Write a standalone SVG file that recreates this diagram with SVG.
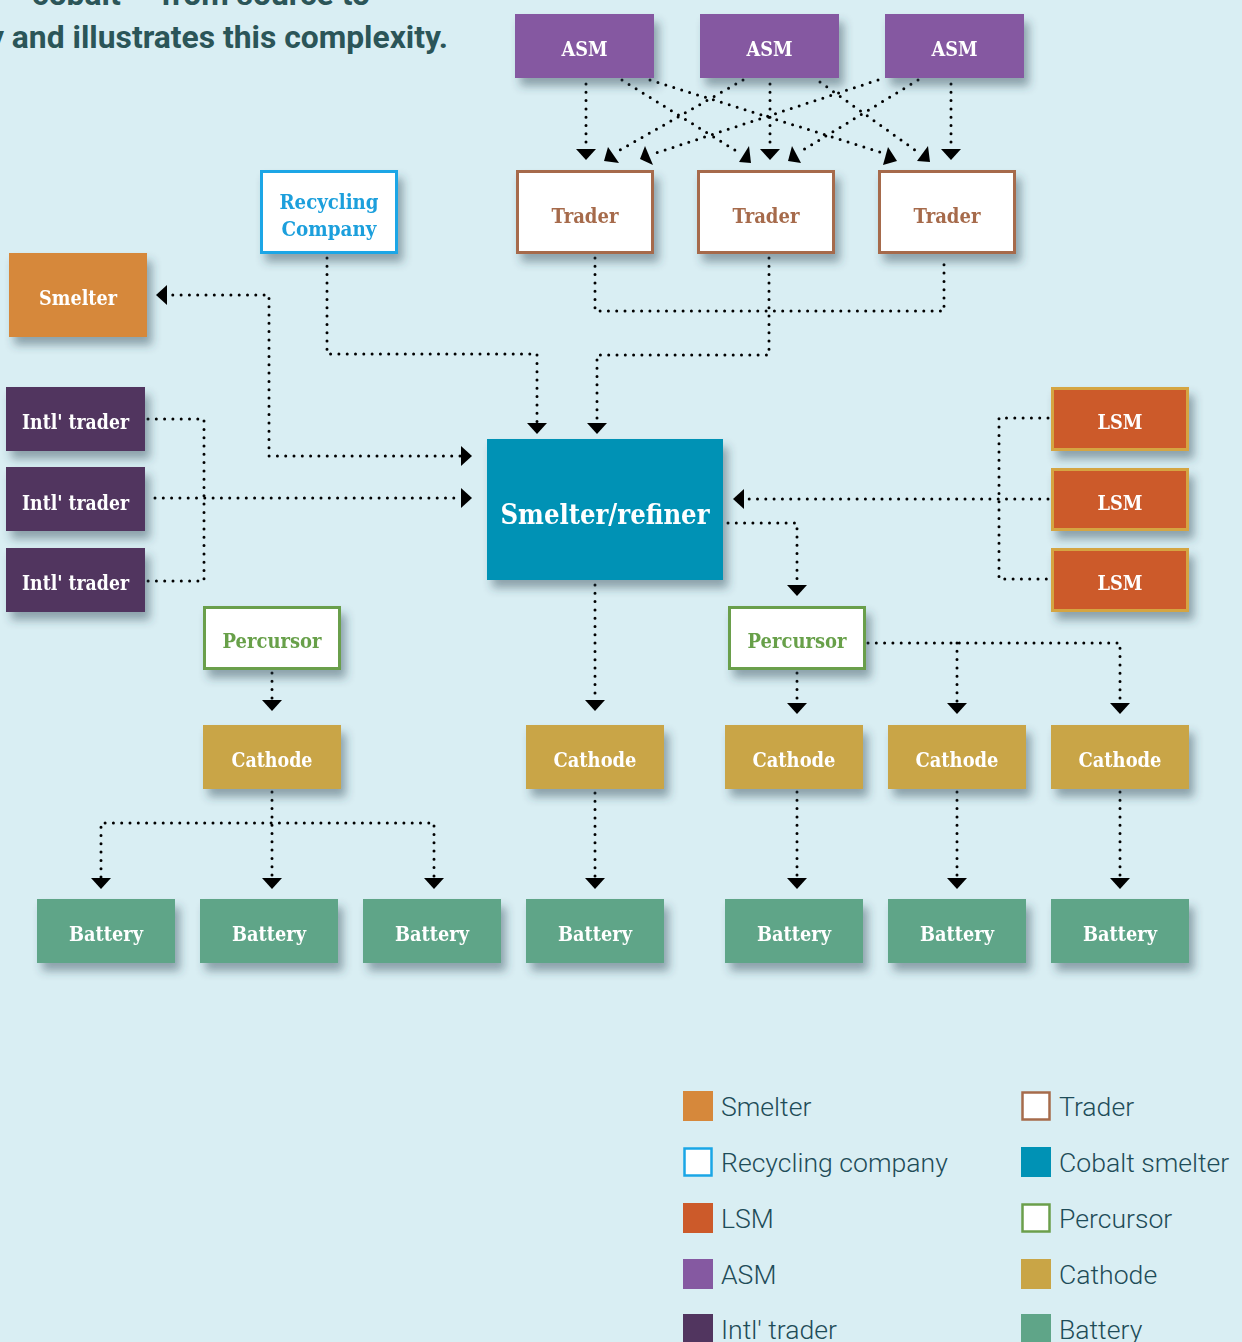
<svg xmlns="http://www.w3.org/2000/svg" width="1242" height="1342" viewBox="0 0 1242 1342">
<defs>
<filter id="sh" x="-20%" y="-20%" width="150%" height="160%">
<feDropShadow dx="5" dy="8" stdDeviation="5" flood-color="#2a4652" flood-opacity="0.45"/>
</filter>
</defs>
<style>
.bg{fill:#d9eef3}
.lbl{font-family:"DejaVu Serif","Liberation Serif",serif;font-weight:bold;font-size:20px;text-anchor:middle;fill:#ffffff}
.big{font-size:28px}
.dot{fill:none;stroke:#000;stroke-width:3;stroke-linecap:round;stroke-dasharray:0 8.3}
.ah{fill:#000}
.asm{fill:#8559a1}
.trader{fill:#fff;stroke:#a66b4b;stroke-width:3}
.recy{fill:#fff;stroke:#1aa6e6;stroke-width:3}
.smelter{fill:#d6883b}
.intl{fill:#51355f}
.refiner{fill:#0092b5}
.lsm{fill:#cc5a2a;stroke:#d5a542;stroke-width:3}
.perc{fill:#fff;stroke:#6b9f4b;stroke-width:3}
.cath{fill:#c9a546}
.batt{fill:#5fa588}
.leg{font-family:Roboto,"Liberation Sans",sans-serif;font-weight:300;font-size:26.6px;fill:#1e4c58}
.head{font-family:Roboto,"Liberation Sans",sans-serif;font-weight:bold;font-size:31.8px;fill:#2b5558}
</style>
<rect class="bg" x="0" y="0" width="1242" height="1342"/>

<text class="head" x="370" y="5" text-anchor="end">cobalt — from source to</text>
<text class="head" x="448" y="48" text-anchor="end">y and illustrates this complexity.</text>

<g id="connectors">
<path class="dot" d="M586,84 V147"/>
<path class="dot" d="M770,84 V147"/>
<path class="dot" d="M951,84 V147"/>
<path class="dot" d="M743,80 L620,150"/>
<path class="dot" d="M878,80 L656,153"/>
<path class="dot" d="M622,80 L738,152"/>
<path class="dot" d="M918,80 L803,150"/>
<path class="dot" d="M650,80 L880,152"/>
<path class="dot" d="M820,82 L915,150"/>
<polygon class="ah" points="576,149 596,149 586,160"/>
<polygon class="ah" points="760,149 780,149 770,160"/>
<polygon class="ah" points="941,149 961,149 951,160"/>
<polygon class="ah" points="604,161 608,147 619,163"/>
<polygon class="ah" points="640,159 645,146 653,165"/>
<polygon class="ah" points="739,162 749,146 751,163"/>
<polygon class="ah" points="788,161 792,146 801,163"/>
<polygon class="ah" points="883,165 888,147 897,161"/>
<polygon class="ah" points="917,161 928,146 930,162"/>

<path class="dot" d="M595,258 V311 H944 V258"/>
<path class="dot" d="M769,258 V355 H597 V422"/>
<polygon class="ah" points="587,423 607,423 597,434"/>
<path class="dot" d="M327,258 V354 H537 V422"/>
<polygon class="ah" points="527,423 547,423 537,434"/>

<path class="dot" d="M460,456 H269 V295 H169"/>
<polygon class="ah" points="167,285 167,305 156,295"/>
<polygon class="ah" points="461,446 461,466 472,456"/>
<path class="dot" d="M148,419 H204 V581 H148"/>
<path class="dot" d="M155,498 H460"/>
<polygon class="ah" points="461,488 461,508 472,498"/>

<path class="dot" d="M1048,418 H999 V579 H1048"/>
<path class="dot" d="M1048,499 H745"/>
<polygon class="ah" points="744,489 744,509 733,499"/>

<path class="dot" d="M728,523 H797 V584"/>
<polygon class="ah" points="787,585 807,585 797,596"/>
<path class="dot" d="M595,585 V699"/>
<polygon class="ah" points="585,700 605,700 595,711"/>
<path class="dot" d="M272,673 V699"/>
<polygon class="ah" points="262,700 282,700 272,711"/>

<path class="dot" d="M797,673 V702"/>
<path class="dot" d="M868,643 H1120 V702"/>
<path class="dot" d="M957,643 V702"/>
<polygon class="ah" points="787,703 807,703 797,714"/>
<polygon class="ah" points="947,703 967,703 957,714"/>
<polygon class="ah" points="1110,703 1130,703 1120,714"/>

<path class="dot" d="M272,792 V877"/>
<path class="dot" d="M101,877 V823 H434 V877"/>
<polygon class="ah" points="91,878 111,878 101,889"/>
<polygon class="ah" points="262,878 282,878 272,889"/>
<polygon class="ah" points="424,878 444,878 434,889"/>
<path class="dot" d="M595,793 V877"/>
<polygon class="ah" points="585,878 605,878 595,889"/>
<path class="dot" d="M797,792 V877"/>
<polygon class="ah" points="787,878 807,878 797,889"/>
<path class="dot" d="M957,792 V877"/>
<polygon class="ah" points="947,878 967,878 957,889"/>
<path class="dot" d="M1120,792 V877"/>
<polygon class="ah" points="1110,878 1130,878 1120,889"/>
</g>

<g id="asm1" filter="url(#sh)"><rect class="asm" x="515" y="14" width="139" height="64"/><text class="lbl" x="584.5" y="56" textLength="46" lengthAdjust="spacingAndGlyphs">ASM</text></g>
<g id="asm2" filter="url(#sh)"><rect class="asm" x="700" y="14" width="139" height="64"/><text class="lbl" x="769.5" y="56" textLength="46" lengthAdjust="spacingAndGlyphs">ASM</text></g>
<g id="asm3" filter="url(#sh)"><rect class="asm" x="885" y="14" width="139" height="64"/><text class="lbl" x="954.5" y="56" textLength="46" lengthAdjust="spacingAndGlyphs">ASM</text></g>

<g id="trader1" filter="url(#sh)"><rect class="trader" x="517.5" y="171.5" width="135" height="81"/><text class="lbl" x="585" y="223" style="fill:#a66b4b" textLength="67" lengthAdjust="spacingAndGlyphs">Trader</text></g>
<g id="trader2" filter="url(#sh)"><rect class="trader" x="698.5" y="171.5" width="135" height="81"/><text class="lbl" x="766" y="223" style="fill:#a66b4b" textLength="67" lengthAdjust="spacingAndGlyphs">Trader</text></g>
<g id="trader3" filter="url(#sh)"><rect class="trader" x="879.5" y="171.5" width="135" height="81"/><text class="lbl" x="947" y="223" style="fill:#a66b4b" textLength="67" lengthAdjust="spacingAndGlyphs">Trader</text></g>

<g id="recycling" filter="url(#sh)"><rect class="recy" x="261.5" y="171.5" width="135" height="81"/><text class="lbl" x="329" y="209" style="fill:#1a9fdc" textLength="99" lengthAdjust="spacingAndGlyphs">Recycling</text><text class="lbl" x="329" y="236" style="fill:#1a9fdc" textLength="95" lengthAdjust="spacingAndGlyphs">Company</text></g>

<g id="smelter" filter="url(#sh)"><rect class="smelter" x="9" y="253" width="138" height="84"/><text class="lbl" x="78" y="305" textLength="78" lengthAdjust="spacingAndGlyphs">Smelter</text></g>

<g id="intl1" filter="url(#sh)"><rect class="intl" x="6" y="387" width="139" height="64"/><text class="lbl" x="75.5" y="429" textLength="107" lengthAdjust="spacingAndGlyphs">Intl' trader</text></g>
<g id="intl2" filter="url(#sh)"><rect class="intl" x="6" y="467" width="139" height="64"/><text class="lbl" x="75.5" y="510" textLength="107" lengthAdjust="spacingAndGlyphs">Intl' trader</text></g>
<g id="intl3" filter="url(#sh)"><rect class="intl" x="6" y="548" width="139" height="64"/><text class="lbl" x="75.5" y="590" textLength="107" lengthAdjust="spacingAndGlyphs">Intl' trader</text></g>

<g id="refiner" filter="url(#sh)"><rect class="refiner" x="487" y="439" width="236" height="141"/><text class="lbl big" x="605" y="524" textLength="209" lengthAdjust="spacingAndGlyphs">Smelter/refiner</text></g>

<g id="lsm1" filter="url(#sh)"><rect class="lsm" x="1052.5" y="388.5" width="135" height="61"/><text class="lbl" x="1120" y="429" textLength="45" lengthAdjust="spacingAndGlyphs">LSM</text></g>
<g id="lsm2" filter="url(#sh)"><rect class="lsm" x="1052.5" y="469.5" width="135" height="60"/><text class="lbl" x="1120" y="510" textLength="45" lengthAdjust="spacingAndGlyphs">LSM</text></g>
<g id="lsm3" filter="url(#sh)"><rect class="lsm" x="1052.5" y="549.5" width="135" height="61"/><text class="lbl" x="1120" y="590" textLength="45" lengthAdjust="spacingAndGlyphs">LSM</text></g>

<g id="perc1" filter="url(#sh)"><rect class="perc" x="204.5" y="607.5" width="135" height="61"/><text class="lbl" x="272" y="648" style="fill:#67a04a" textLength="99" lengthAdjust="spacingAndGlyphs">Percursor</text></g>
<g id="perc2" filter="url(#sh)"><rect class="perc" x="729.5" y="607.5" width="135" height="61"/><text class="lbl" x="797" y="648" style="fill:#67a04a" textLength="99" lengthAdjust="spacingAndGlyphs">Percursor</text></g>

<g id="cath1" filter="url(#sh)"><rect class="cath" x="203" y="725" width="138" height="64"/><text class="lbl" x="272" y="767" textLength="81" lengthAdjust="spacingAndGlyphs">Cathode</text></g>
<g id="cath2" filter="url(#sh)"><rect class="cath" x="526" y="725" width="138" height="64"/><text class="lbl" x="595" y="767" textLength="83" lengthAdjust="spacingAndGlyphs">Cathode</text></g>
<g id="cath3" filter="url(#sh)"><rect class="cath" x="725" y="725" width="138" height="64"/><text class="lbl" x="794" y="767" textLength="83" lengthAdjust="spacingAndGlyphs">Cathode</text></g>
<g id="cath4" filter="url(#sh)"><rect class="cath" x="888" y="725" width="138" height="64"/><text class="lbl" x="957" y="767" textLength="83" lengthAdjust="spacingAndGlyphs">Cathode</text></g>
<g id="cath5" filter="url(#sh)"><rect class="cath" x="1051" y="725" width="138" height="64"/><text class="lbl" x="1120" y="767" textLength="83" lengthAdjust="spacingAndGlyphs">Cathode</text></g>

<g id="batt1" filter="url(#sh)"><rect class="batt" x="37" y="899" width="138" height="64"/><text class="lbl" x="106" y="941" textLength="74" lengthAdjust="spacingAndGlyphs">Battery</text></g>
<g id="batt2" filter="url(#sh)"><rect class="batt" x="200" y="899" width="138" height="64"/><text class="lbl" x="269" y="941" textLength="74" lengthAdjust="spacingAndGlyphs">Battery</text></g>
<g id="batt3" filter="url(#sh)"><rect class="batt" x="363" y="899" width="138" height="64"/><text class="lbl" x="432" y="941" textLength="74" lengthAdjust="spacingAndGlyphs">Battery</text></g>
<g id="batt4" filter="url(#sh)"><rect class="batt" x="526" y="899" width="138" height="64"/><text class="lbl" x="595" y="941" textLength="74" lengthAdjust="spacingAndGlyphs">Battery</text></g>
<g id="batt5" filter="url(#sh)"><rect class="batt" x="725" y="899" width="138" height="64"/><text class="lbl" x="794" y="941" textLength="74" lengthAdjust="spacingAndGlyphs">Battery</text></g>
<g id="batt6" filter="url(#sh)"><rect class="batt" x="888" y="899" width="138" height="64"/><text class="lbl" x="957" y="941" textLength="74" lengthAdjust="spacingAndGlyphs">Battery</text></g>
<g id="batt7" filter="url(#sh)"><rect class="batt" x="1051" y="899" width="138" height="64"/><text class="lbl" x="1120" y="941" textLength="74" lengthAdjust="spacingAndGlyphs">Battery</text></g>

<g id="legend">
<rect class="smelter" x="683" y="1091" width="30" height="30"/><text class="leg" x="721" y="1116">Smelter</text>
<rect class="recy" x="684.5" y="1148.5" width="27" height="27" style="stroke-width:2.5"/><text class="leg" x="721" y="1172">Recycling company</text>
<rect class="lsm" x="683" y="1203" width="30" height="30" style="stroke:none"/><text class="leg" x="721" y="1228">LSM</text>
<rect class="asm" x="683" y="1259" width="30" height="30"/><text class="leg" x="721" y="1284">ASM</text>
<rect class="intl" x="683" y="1314" width="30" height="30"/><text class="leg" x="721" y="1339">Intl' trader</text>
<rect class="trader" x="1022.5" y="1092.5" width="27" height="27" style="stroke-width:2.5"/><text class="leg" x="1059" y="1116">Trader</text>
<rect class="refiner" x="1021" y="1147" width="30" height="30"/><text class="leg" x="1059" y="1172">Cobalt smelter</text>
<rect class="perc" x="1022.5" y="1204.5" width="27" height="27" style="stroke-width:2.5"/><text class="leg" x="1059" y="1228">Percursor</text>
<rect class="cath" x="1021" y="1259" width="30" height="30"/><text class="leg" x="1059" y="1284">Cathode</text>
<rect class="batt" x="1021" y="1314" width="30" height="30"/><text class="leg" x="1059" y="1339">Battery</text>
</g>
</svg>
